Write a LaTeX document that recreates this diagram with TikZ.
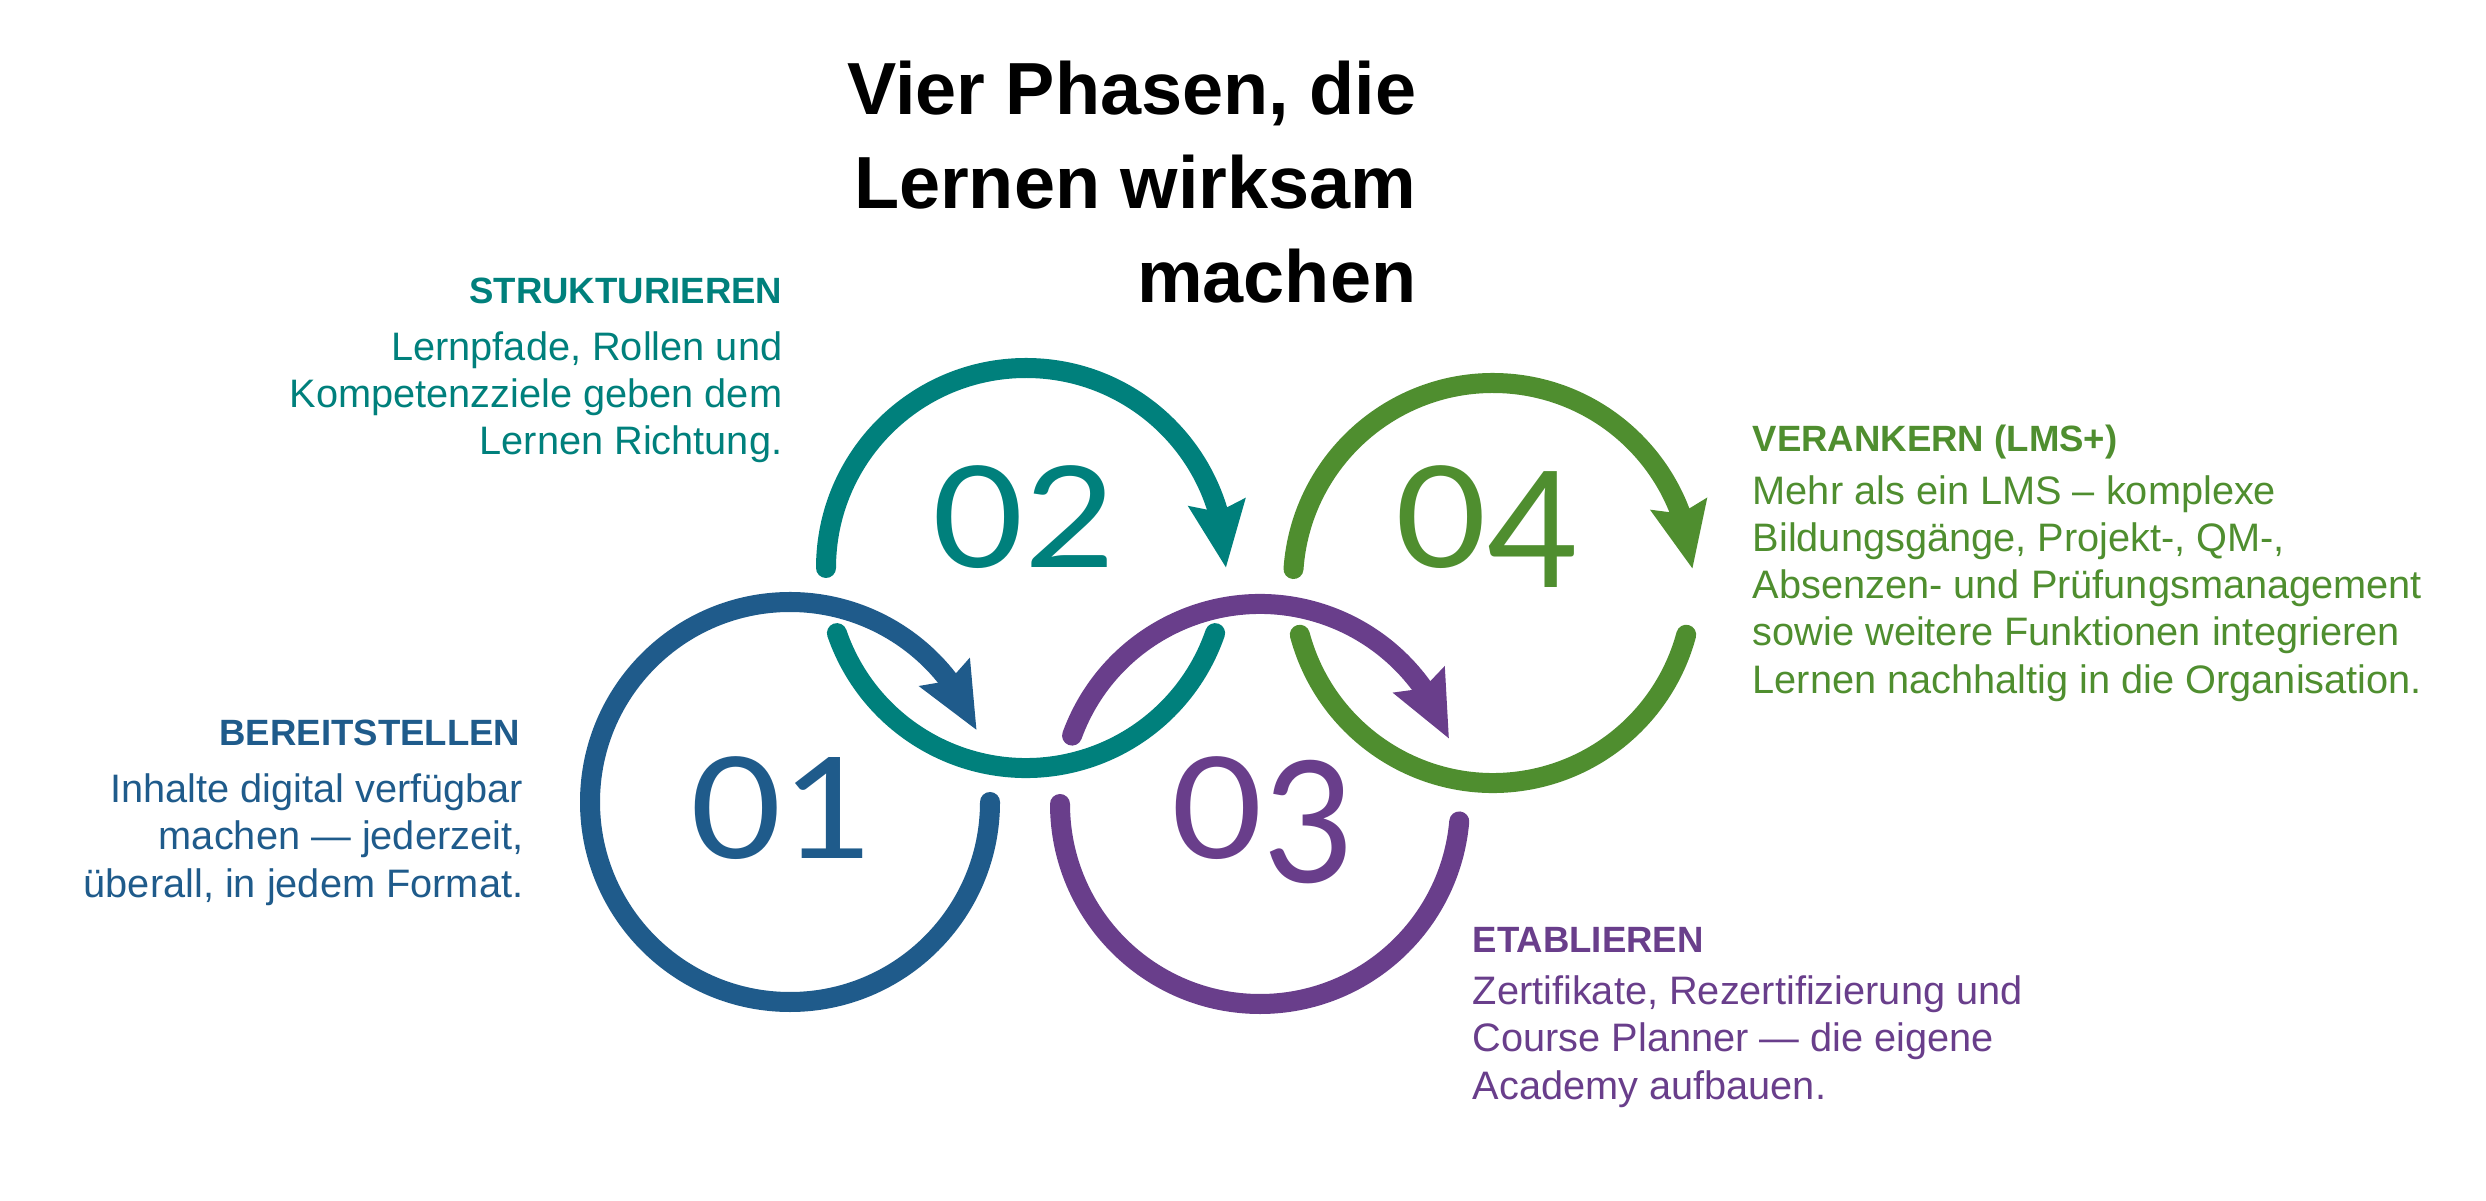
\documentclass[tikz,border=0pt]{standalone}
\usepackage{fontspec}
\setmainfont{Liberation Sans}
\newfontfamily\numfont{Lato}
\usepackage{graphicx}
\usepackage{tikz}
\usetikzlibrary{arrows.meta,bending}
\definecolor{phaseblue}{RGB}{31,91,139}
\definecolor{phaseteal}{RGB}{0,128,124}
\definecolor{phasepurple}{RGB}{105,62,139}
\definecolor{phasegreen}{RGB}{79,142,47}

\begin{document}
\begin{tikzpicture}[x=0.01cm, y=0.01cm,
  ring/.style={line width=0.2cm, line cap=round},
  ringarrow/.style={ring, -{Stealth[length=0.65cm, width=0.55cm, inset=0.085cm]}},
  phasenum/.style={font=\numfont\fontsize{40}{40}\selectfont, inner sep=0pt, anchor=base},
  titletext/.style={font=\bfseries\fontsize{21}{26.75}\selectfont, inner sep=0pt, align=right},
  heading/.style={font=\bfseries\fontsize{10.4}{12.5}\selectfont, inner sep=0pt},
  blurb/.style={font=\fontsize{11.3}{13.37}\selectfont, inner sep=0pt}]
  \useasboundingbox (0,0) rectangle (2486,1200);

  \coordinate (c1) at (790,398);
  \coordinate (c2) at (1026,632);
  \coordinate (c3) at (1260,396);
  \coordinate (c4) at (1493,617);

  % rings
  \draw[ringarrow, phaseblue] ([shift={(0:200)}]c1) arc[start angle=0, end angle=-339, radius=200];
  \draw[ringarrow, phaseteal] ([shift={(180:200)}]c2) arc[start angle=180, end angle=0, radius=200];
  \draw[ring, phaseteal] ([shift={(199:200)}]c2) arc[start angle=199, end angle=341, radius=200];
  \draw[ringarrow, phasepurple] ([shift={(160:200)}]c3) arc[start angle=160, end angle=19, radius=200];
  \draw[ring, phasepurple] ([shift={(180:200)}]c3) arc[start angle=180, end angle=355, radius=200];
  \draw[ringarrow, phasegreen] ([shift={(176:200)}]c4) arc[start angle=176, end angle=4, radius=200];
  \draw[ring, phasegreen] ([shift={(195:200)}]c4) arc[start angle=195, end angle=345, radius=200];

  \node[phasenum, text=phaseblue] (n1) at (782,341) {\scalebox{1.12}[1]{01}};
  \node[phasenum, text=phaseteal] (n2) at (1024,632) {\scalebox{1.12}[1]{02}};
  \node[phasenum, text=phasepurple] (n3) at (1263,341) {\scalebox{1.12}[1]{0\raisebox{-0.165em}{\scalebox{1}[1.2]{3}}}};
  \node[phasenum, text=phasegreen] (n4) at (1487,632) {\scalebox{1.12}[1]{0\raisebox{-0.136em}{\scalebox{1}[1.15]{4}}}};

  % base of a multi-line node = its last line
  \node[titletext, anchor=base east] (title) at (1417,897) {Vier Phasen, die\\Lernen wirksam\\machen};

  % texts
  \node[heading, text=phaseteal, anchor=base east] (h2) at (783,896) {STRUKTURIEREN};
  \node[blurb, text=phaseteal, anchor=base east, align=right] (b2) at (783,745) {Lernpfade, Rollen und\\Kompetenzziele geben dem\\Lernen Richtung.};
  \node[heading, text=phaseblue, anchor=base east] (h1) at (521,454) {BEREITSTELLEN};
  \node[blurb, text=phaseblue, anchor=base east, align=right] (b1) at (524,303) {Inhalte digital verfügbar\\machen — jederzeit,\\überall, in jedem Format.};
  \node[heading, text=phasegreen, anchor=base west] (h4) at (1752,748) {VERANKERN (LMS+)};
  \node[blurb, text=phasegreen, anchor=base west, align=left] (b4) at (1752,507) {Mehr als ein LMS – komplexe\\Bildungsgänge, Projekt-, QM-,\\Absenzen- und Prüfungsmanagement\\sowie weitere Funktionen integrieren\\Lernen nachhaltig in die Organisation.};
  \node[heading, text=phasepurple, anchor=base west] (h3) at (1472,248) {ETABLIEREN};
  \node[blurb, text=phasepurple, anchor=base west, align=left] (b3) at (1472,101) {Zertifikate, Rezertifizierung und\\Course Planner — die eigene\\Academy aufbauen.};
\end{tikzpicture}
\end{document}
